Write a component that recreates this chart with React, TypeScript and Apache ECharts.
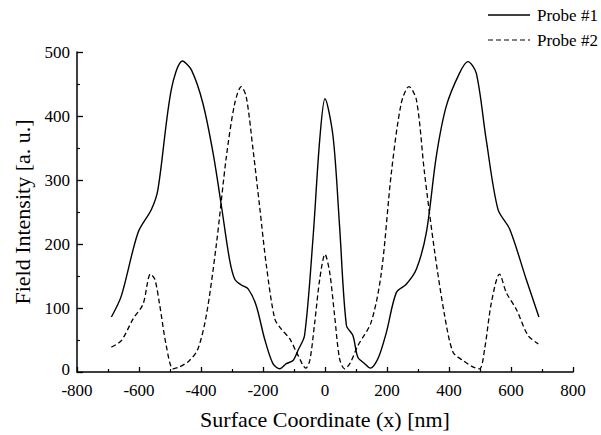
import React, { useEffect, useRef } from "react";
import * as echarts from "echarts";

const xTicks = [-800, -600, -400, -200, 0, 200, 400, 600, 800];
const yTicks = [0, 100, 200, 300, 400, 500];

const probe1X = [-689, -657, -603, -560, -539, -496, -460, -431, -394, -361, -334, -308, -291, -270, -248, -222, -195, -168, -146, -125, -103, -87, -66, -39, -17, 0, 26, 47, 69, 90, 106, 128, 146, 171, 198, 230, 262, 295, 327, 359, 391, 434, 461, 488, 520, 558, 596, 649, 690];
const probe1Y = [86, 119, 218, 254, 285, 441, 486, 472, 420, 342, 259, 176, 145, 136, 130, 104, 52, 13, 5, 13, 18, 34, 57, 207, 363, 427, 368, 228, 73, 57, 23, 13, 6, 21, 62, 124, 137, 161, 218, 337, 415, 467, 485, 467, 363, 254, 223, 145, 86];

const probe2X = [-689, -657, -619, -587, -563, -549, -533, -512, -490, -469, -437, -410, -383, -351, -318, -291, -270, -254, -232, -211, -189, -162, -141, -114, -87, -62, -49, -33, -17, 0, 15, 31, 47, 63, 80, 106, 149, 182, 214, 246, 271, 295, 321, 354, 386, 413, 445, 477, 499, 515, 537, 563, 585, 617, 655, 688];
const probe2Y = [39, 49, 83, 106, 153, 145, 104, 41, 5, 8, 18, 36, 88, 197, 337, 420, 446, 430, 347, 259, 166, 83, 67, 52, 26, 6, 18, 78, 145, 184, 156, 88, 21, 5, 13, 41, 78, 156, 311, 420, 446, 425, 311, 187, 88, 31, 18, 8, 5, 36, 109, 153, 124, 98, 57, 44];

const seriesNames = ["Probe #1", "Probe #2"];
const xTitle = "Surface Coordinate (x) [nm]";
const yTitle = "Field Intensity [a. u.]";

const FONT = "Liberation Serif";

export default function App() {
  const ref = useRef<HTMLDivElement>(null);
  useEffect(() => {
    if (!ref.current) return;
    const chart = echarts.init(ref.current, undefined, { renderer: "svg" });
    const axisCommon = {
      axisLine: { show: true, onZero: false, lineStyle: { color: "#000", width: 1.5 } },
      axisTick: { show: true, inside: true, length: 5, lineStyle: { color: "#000", width: 1.3 } },
      minorTick: { show: true, splitNumber: 2, length: 3, lineStyle: { color: "#000", width: 1.2 } },
      splitLine: { show: false },
      axisLabel: { color: "#000", fontFamily: FONT, fontSize: 17, lineHeight: 14 },
      nameTextStyle: { color: "#000", fontFamily: FONT, fontSize: 22 },
    };
    chart.setOption({
      animation: false,
      backgroundColor: "#fff",
      grid: { left: 77, right: 28, top: 52, bottom: 62, containLabel: false },
      xAxis: {
        type: "value",
        min: xTicks[0],
        max: xTicks[xTicks.length - 1],
        interval: 200,
        name: xTitle,
        nameLocation: "middle",
        nameGap: 36,
        ...axisCommon,
        axisLabel: { ...axisCommon.axisLabel, margin: 11 },
      },
      yAxis: {
        type: "value",
        min: yTicks[0],
        max: yTicks[yTicks.length - 1],
        interval: 100,
        name: yTitle,
        nameLocation: "middle",
        nameGap: 39,
        ...axisCommon,
        axisTick: { ...axisCommon.axisTick, length: 6 },
        axisLabel: {
          ...axisCommon.axisLabel,
          margin: 7,
          formatter: (v: number) => (v === yTicks[0] ? "{z|" + v + "}" : String(v)),
          rich: { z: { fontFamily: FONT, fontSize: 17, color: "#000", lineHeight: 14, padding: [0, 0, 6, 0] } },
        },
      },
      series: [
        {
          name: seriesNames[0],
          type: "line",
          data: probe1X.map((x, i) => [x, probe1Y[i]]),
          smooth: 0.3,
          showSymbol: false,
          symbol: "none",
          lineStyle: { color: "#000", width: 1.4, type: "solid" },
        },
        {
          name: seriesNames[1],
          type: "line",
          data: probe2X.map((x, i) => [x, probe2Y[i]]),
          smooth: 0.3,
          showSymbol: false,
          symbol: "none",
          lineStyle: { color: "#000", width: 1.3, type: [5, 3] },
        },
      ],
      graphic: [
        { type: "line", shape: { x1: 488, y1: 15, x2: 530, y2: 15 }, style: { stroke: "#000", lineWidth: 1.3 } },
        { type: "text", x: 537, y: 15, style: { text: seriesNames[0], fontFamily: FONT, fontSize: 17, fill: "#000", verticalAlign: "middle" } },
        { type: "line", shape: { x1: 488, y1: 40, x2: 530, y2: 40 }, style: { stroke: "#000", lineWidth: 1.2, lineDash: [5, 3] } },
        { type: "text", x: 537, y: 40, style: { text: seriesNames[1], fontFamily: FONT, fontSize: 17, fill: "#000", verticalAlign: "middle" } },
      ],
    });
    return () => chart.dispose();
  }, []);
  return <div ref={ref} style={{ width: 601, height: 435, position: "absolute", left: 0, top: 0 }} />;
}
